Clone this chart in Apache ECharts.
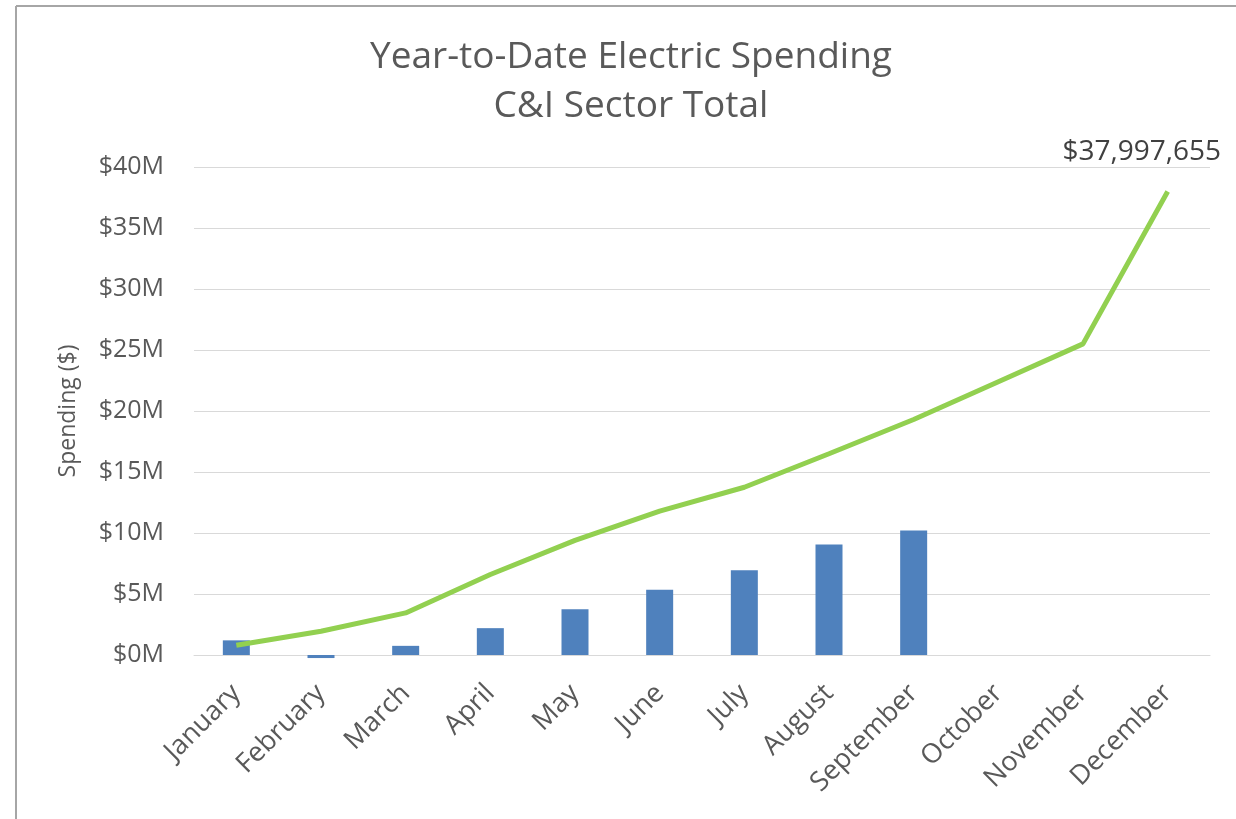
<!DOCTYPE html>
<html>
<head>
<meta charset="utf-8">
<script src="https://cdn.jsdelivr.net/npm/echarts@6/dist/echarts.min.js"></script>
<style>
html,body{margin:0;padding:0;background:#fff;}
#chart{width:1236px;height:819px;}
</style>
</head>
<body>
<div id="chart"></div>
<script>
const months = ['January','February','March','April','May','June','July','August','September','October','November','December'];
// Monthly spending, $ millions
const monthlySpending = [1.2, -0.25, 0.75, 2.2, 3.75, 5.35, 6.95, 9.05, 10.2];
// Year-to-date cumulative spending, $ millions
const ytdSpending = [0.8, 1.95, 3.45, 6.6, 9.4, 11.8, 13.75, 16.5, 19.3, 22.4, 25.5, 37.997655];
const yTicks = {min: 0, max: 40, interval: 5};

const FONT = '"Open Sans", "Noto Sans", sans-serif';
const TXT = '#595959';

const chart = echarts.init(document.getElementById('chart'), null, {renderer: 'canvas'});
chart.setOption({
  backgroundColor: '#ffffff',
  animation: false,
  textStyle: {fontFamily: FONT},
  title: {
    text: 'Year-to-Date Electric Spending\nC&I Sector Total',
    left: 626,
    textAlign: 'center',
    top: 28,
    textStyle: {fontFamily: FONT, fontSize: 37, fontWeight: 'normal', color: TXT, lineHeight: 49}
  },
  graphic: [
    {type: 'line', shape: {x1: 16, y1: 6, x2: 1236, y2: 6}, style: {stroke: '#A6A6A6', lineWidth: 2}},
    {type: 'line', shape: {x1: 16, y1: 6, x2: 16, y2: 819}, style: {stroke: '#A6A6A6', lineWidth: 2}}
  ],
  grid: {left: 194, right: 26, top: 167, bottom: 164, containLabel: false},
  xAxis: {
    type: 'category',
    data: months,
    boundaryGap: true,
    axisLine: {show: true, onZero: true, lineStyle: {color: '#D9D9D9', width: 1}},
    axisTick: {show: false},
    axisLabel: {rotate: 45, color: TXT, fontSize: 27, fontFamily: FONT, margin: 34, interval: 0}
  },
  yAxis: {
    type: 'value',
    min: yTicks.min, max: yTicks.max, interval: yTicks.interval,
    name: 'Spending ($)',
    nameLocation: 'middle',
    nameGap: 114,
    nameTextStyle: {color: TXT, fontSize: 23, fontFamily: FONT},
    axisLine: {show: false},
    axisTick: {show: false},
    splitLine: {lineStyle: {color: '#D9D9D9', width: 1}},
    axisLabel: {color: TXT, fontSize: 25, fontFamily: FONT, margin: 30, formatter: v => '$' + v + 'M'}
  },
  series: [
    {
      name: 'Monthly',
      type: 'bar',
      data: monthlySpending,
      barWidth: 27,
      clip: false,
      itemStyle: {color: '#4F81BD'},
      z: 1
    },
    {
      name: 'Year-to-Date',
      type: 'line',
      data: ytdSpending.map((v, i) => i === ytdSpending.length - 1
        ? {value: v, label: {show: true}}
        : v),
      symbol: 'circle',
      symbolSize: 0.1,
      showSymbol: true,
      lineStyle: {color: '#92D050', width: 5},
      itemStyle: {color: '#92D050'},
      label: {
        show: false,
        position: 'top',
        offset: [-26, -20],
        color: '#404040',
        fontSize: 28,
        fontFamily: FONT,
        formatter: p => '$' + Math.round(p.value * 1e6).toLocaleString('en-US')
      },
      z: 3
    }
  ]
});
</script>
</body>
</html>
